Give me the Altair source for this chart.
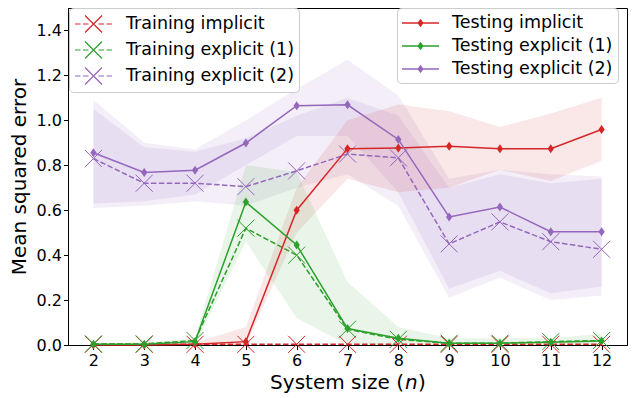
import altair as alt
import pandas as pd

# ---------------- data ----------------
n_vals = [2, 3, 4, 5, 6, 7, 8, 9, 10, 11, 12]

train_implicit = [0.003, 0.003, 0.003, 0.003, 0.003, 0.003, 0.003, 0.003, 0.003, 0.003, 0.003]
train_explicit1 = [0.005, 0.005, 0.02, 0.52, 0.40, 0.07, 0.025, 0.008, 0.008, 0.015, 0.02]
train_explicit2 = [0.83, 0.72, 0.72, 0.705, 0.775, 0.85, 0.833, 0.45, 0.548, 0.46, 0.426]

test_implicit = [0.0, 0.0, 0.003, 0.015, 0.60, 0.874, 0.877, 0.885, 0.874, 0.874, 0.959]
test_explicit1 = [0.003, 0.003, 0.015, 0.636, 0.445, 0.073, 0.03, 0.008, 0.008, 0.012, 0.018]
test_explicit2 = [0.856, 0.768, 0.778, 0.899, 1.065, 1.069, 0.915, 0.57, 0.614, 0.504, 0.504]

# shaded spread bands (low / high)
band_red_lo = [0.0, 0.0, 0.0, 0.0, 0.50, 0.74, 0.68, 0.70, 0.78, 0.73, 0.82]
band_red_hi = [0.005, 0.005, 0.01, 0.08, 0.70, 1.00, 1.07, 1.04, 0.97, 1.03, 1.10]
band_green_lo = [0.0, 0.0, 0.0, 0.46, 0.12, 0.0, 0.0, 0.0, 0.0, 0.0, 0.0]
band_green_hi = [0.01, 0.01, 0.03, 0.80, 0.77, 0.28, 0.08, 0.03, 0.03, 0.03, 0.05]
band_purple_a_lo = [0.63, 0.64, 0.67, 0.80, 0.93, 0.93, 0.68, 0.25, 0.33, 0.23, 0.26]
band_purple_a_hi = [1.09, 0.90, 0.87, 1.00, 1.14, 1.27, 1.11, 0.74, 0.78, 0.76, 0.75]
band_purple_b_lo = [0.61, 0.62, 0.64, 0.62, 0.70, 0.76, 0.62, 0.21, 0.30, 0.20, 0.22]
band_purple_b_hi = [1.05, 0.88, 0.86, 0.92, 1.02, 1.10, 1.02, 0.70, 0.76, 0.72, 0.74]

train_names = ["Training implicit", "Training explicit (1)", "Training explicit (2)"]
test_names = ["Testing implicit", "Testing explicit (1)", "Testing explicit (2)"]
colors = ["#d62728", "#2ca02c", "#9467bd"]

y_ticks = [0.0, 0.2, 0.4, 0.6, 0.8, 1.0, 1.2, 1.4]
y_title = "Mean squared error"
x_title_parts = ["System size (", "n", ")"]   # the n is italic

W, H = 559, 337

# ---------------- tables ----------------
def long_table(names, series):
    rows = []
    for name, vals in zip(names, series):
        for n, v in zip(n_vals, vals):
            rows.append({"n": n, "mse": v, "series": name})
    return pd.DataFrame(rows)

train_df = long_table(train_names, [train_implicit, train_explicit1, train_explicit2])
test_df = long_table(test_names, [test_implicit, test_explicit1, test_explicit2])

bands_spec = [
    ("#9467bd", band_purple_b_lo, band_purple_b_hi),
    ("#9467bd", band_purple_a_lo, band_purple_a_hi),
    ("#d62728", band_red_lo, band_red_hi),
    ("#2ca02c", band_green_lo, band_green_hi),
]

# ---------------- encodings ----------------
x_scale = alt.Scale(domain=[1.5, 12.5], nice=False, zero=False)
y_scale = alt.Scale(domain=[0, 1.5], nice=False)
x_axis = alt.Axis(values=n_vals, format="d", title=None,
                  labelFontSize=16, tickSize=4.5, labelPadding=3)
y_axis = alt.Axis(values=y_ticks, format=".1f",
                  title=y_title, labelFontSize=16,
                  titleFontSize=20, tickSize=4.5, labelPadding=2,
                  titlePadding=7)
x_enc = alt.X("n:Q", scale=x_scale, axis=x_axis)
y_enc = alt.Y("mse:Q", scale=y_scale, axis=y_axis)

X_PATH = "M-1,-1L1,1M-1,1L1,-1"
D_PATH = "M0,-1L0.7,0L0,1L-0.7,0Z"
TRAIN_SYM = ("M-1,0H-0.45M-0.2,0H0.35M1.35,0H1.9M2.15,0H2.7"
             "M0,-0.85L1.7,0.85M0,0.85L1.7,-0.85")
TEST_SYM = "M-1,-0.075H2.7V0.075H-1Z M0.85,-0.42L1.15,0L0.85,0.42L0.55,0Z"

train_scale = alt.Scale(domain=train_names, range=colors)
test_scale = alt.Scale(domain=test_names, range=colors)

common_legend = dict(orient="none", title=None, symbolSize=400,
                     labelFontSize=17.5, labelFont="DejaVu Sans", labelColor="black",
                     labelLimit=400, labelOffset=30, padding=5, rowPadding=4,
                     fillColor="rgba(255,255,255,0.85)", strokeColor="#cccccc",
                     cornerRadius=4, symbolOpacity=1)
train_legend = alt.Legend(legendX=1, legendY=0, symbolType=TRAIN_SYM,
                          symbolStrokeWidth=1.2, **common_legend)
test_legend = alt.Legend(legendX=329, legendY=0, symbolType=TEST_SYM,
                         symbolStrokeWidth=0, **common_legend)

layers = []
for col, lo, hi in bands_spec:
    bdf = pd.DataFrame({"n": n_vals, "lo": lo, "hi": hi})
    layers.append(
        alt.Chart(bdf).mark_area(color=col, opacity=0.11, interpolate="linear").encode(
            x=x_enc,
            y=alt.Y("lo:Q", scale=y_scale, axis=y_axis),
            y2="hi:Q",
        )
    )

train_line = alt.Chart(train_df).mark_line(strokeWidth=1.5, strokeDash=[5.5, 2.4]).encode(
    x=x_enc, y=y_enc,
    stroke=alt.Stroke("series:N", scale=train_scale, legend=train_legend),
)
train_pts = alt.Chart(train_df).mark_point(shape=X_PATH, filled=False, size=289,
                                           strokeWidth=1.0, opacity=1).encode(
    x=x_enc, y=y_enc,
    stroke=alt.Stroke("series:N", scale=train_scale, legend=train_legend),
)
test_line = alt.Chart(test_df).mark_line(strokeWidth=1.5).encode(
    x=x_enc, y=y_enc,
    color=alt.Color("series:N", scale=test_scale, legend=test_legend),
)
test_pts = alt.Chart(test_df).mark_point(shape=D_PATH, filled=True, size=81,
                                         opacity=1, strokeWidth=0).encode(
    x=x_enc, y=y_enc,
    fill=alt.Fill("series:N", scale=test_scale, legend=test_legend),
)

# x-axis title written in three runs so that the n can be italic
title_df = pd.DataFrame({"t": x_title_parts})
tx = 336
ty = H + 44
t1 = alt.Chart(title_df).transform_filter(alt.datum.t == x_title_parts[0]).mark_text(
    align="right", baseline="alphabetic", fontSize=20, font="DejaVu Sans", color="black"
).encode(x=alt.value(tx), y=alt.value(ty), text="t:N")
t2 = alt.Chart(title_df).transform_filter(alt.datum.t == x_title_parts[1]).mark_text(
    align="left", baseline="alphabetic", fontSize=20, font="DejaVu Sans",
    fontStyle="italic", color="black"
).encode(x=alt.value(tx + 1), y=alt.value(ty), text="t:N")
t3 = alt.Chart(title_df).transform_filter(alt.datum.t == x_title_parts[2]).mark_text(
    align="left", baseline="alphabetic", fontSize=20, font="DejaVu Sans", color="black"
).encode(x=alt.value(tx + 14), y=alt.value(ty), text="t:N")

chart = alt.layer(*layers, train_line, train_pts, test_line, test_pts, t1, t2, t3).properties(
    width=W, height=H,
    autosize=alt.AutoSizeParams(type="none"),
    padding={"left": 60, "top": 0, "right": 9, "bottom": 50},
).configure_view(
    stroke="black", strokeWidth=1,
).configure_axis(
    domainColor="black", tickColor="black", grid=False,
    labelColor="black", titleColor="black", titleFontWeight="normal",
    labelFont="DejaVu Sans", titleFont="DejaVu Sans",
)

chart.save("out.html", embed_options={"renderer": "svg", "actions": False})
